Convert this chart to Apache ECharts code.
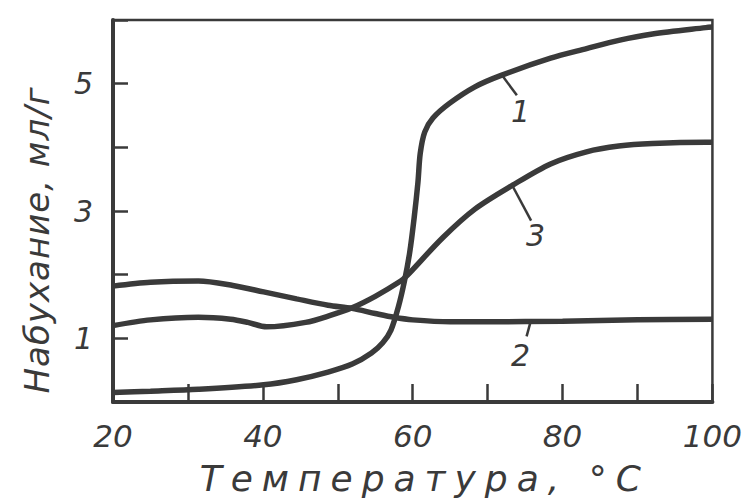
<!DOCTYPE html>
<html>
<head>
<meta charset="utf-8">
<script src="https://cdn.jsdelivr.net/npm/echarts@6/dist/echarts.min.js"></script>
<style>html,body{margin:0;padding:0;background:#fff}#c{width:745px;height:501px}</style>
</head>
<body>
<div id="c"></div>
<script>
// ---- data ----
const xTicks = [20, 30, 40, 50, 60, 70, 80, 90, 100];
const xTickLabels = ['20', '40', '60', '80', '100'];
const yTickLabels = ['1', '3', '5'];
const xTitle = 'Температура, °C';
const yTitle = 'Набухание, мл/г';

const curve1X = [20, 25, 31.4, 40.1, 44.5, 48.7, 52, 54.5, 56, 57.1, 58.1, 58.9, 59.6, 60.2, 60.7, 61.0, 61.6, 62.7, 64.9, 68.3, 71.8, 78.4, 83.2, 87.5, 92, 99.1, 100];
const curve1Y = [0.15, 0.17, 0.2, 0.27, 0.35, 0.47, 0.6, 0.77, 0.93, 1.13, 1.5, 1.9, 2.35, 2.9, 3.45, 3.9, 4.24, 4.46, 4.69, 4.95, 5.13, 5.40, 5.55, 5.68, 5.78, 5.88, 5.89];

const curve2X = [20, 25, 31.4, 36, 40.1, 44.5, 48.7, 51.9, 55, 57.5, 60, 65, 70, 80, 90, 100];
const curve2Y = [1.82, 1.88, 1.9, 1.83, 1.73, 1.62, 1.52, 1.47, 1.39, 1.33, 1.29, 1.26, 1.26, 1.27, 1.29, 1.3];

const curve3X = [20, 25, 31.4, 35.7, 38, 40.5, 45.7, 49, 51.9, 55, 58.4, 59.2, 64, 68.3, 73.4, 78.4, 83.2, 87.5, 92, 99.1, 100];
const curve3Y = [1.2, 1.29, 1.33, 1.3, 1.25, 1.18, 1.25, 1.36, 1.48, 1.66, 1.9, 1.98, 2.58, 3.03, 3.41, 3.74, 3.93, 4.02, 4.06, 4.08, 4.08];

// annotation numbers and leader lines (data coordinates)
const annoNames = ['1', '3', '2'];
const annoLabelPos = [[74.4, 4.56], [76.4, 2.62], [74.4, 0.73]];
const annoLineFrom = [[71.8, 5.15], [73.2, 3.42], [75.8, 1.29]];
const annoLineTo = [[73.9, 4.82], [75.8, 2.85], [75.2, 1.03]];

// ---- chart ----
const ink = '#3a3a3a';
const fontFam = '"DejaVu Sans", sans-serif';
const zip = (xs, ys) => xs.map((x, i) => [x, ys[i]]);

const chart = echarts.init(document.getElementById('c'), null, {renderer: 'svg'});

function curveSeries(name, xs, ys) {
  return {
    name: name, type: 'line', data: zip(xs, ys), smooth: 0.3,
    showSymbol: false, symbol: 'none',
    lineStyle: {color: ink, width: 5.5}, z: 3, silent: true
  };
}

const option = {
  backgroundColor: '#ffffff',
  animation: false,
  grid: {left: 113, right: 20, top: 20, bottom: 83, show: true, borderColor: ink, borderWidth: 2.5, backgroundColor: 'transparent'},
  xAxis: {
    type: 'value', min: 20, max: 100, interval: 10,
    axisLine: {lineStyle: {color: ink, width: 4}},
    axisTick: {inside: true, length: 18, lineStyle: {color: ink, width: 2.5}},
    splitLine: {show: false},
    axisLabel: {
      color: ink, fontSize: 31, fontStyle: 'italic', fontFamily: fontFam, margin: 18,
      formatter: v => (xTickLabels.indexOf(String(v)) >= 0 ? String(v) : '')
    },
    name: xTitle, nameLocation: 'middle', nameGap: 58,
    nameTextStyle: {color: ink, fontSize: 36, fontStyle: 'italic', fontFamily: fontFam, padding: [0, 0, 0, 24]}
  },
  yAxis: {
    type: 'value', min: 0, max: 6, interval: 1,
    axisLine: {lineStyle: {color: ink, width: 4}},
    axisTick: {inside: true, length: 15, lineStyle: {color: ink, width: 2.5}},
    splitLine: {show: false},
    axisLabel: {
      color: ink, fontSize: 30, fontStyle: 'italic', fontFamily: fontFam, margin: 20,
      formatter: v => (yTickLabels.indexOf(String(v)) >= 0 ? String(v) : '')
    }
  },
  graphic: [{
    type: 'text', x: 37, y: 240,
    rotation: Math.PI / 2,
    style: {text: yTitle, fill: ink, font: 'italic 34px ' + fontFam, textAlign: 'center', textVerticalAlign: 'middle'}
  }],
  series: [
    curveSeries('1', curve1X, curve1Y),
    curveSeries('2', curve2X, curve2Y),
    curveSeries('3', curve3X, curve3Y),
    {
      type: 'scatter', symbolSize: 0, silent: true,
      itemStyle: {color: ink, opacity: 1},
      data: annoLabelPos.map((p, i) => ({value: p, name: annoNames[i]})),
      label: {show: true, position: 'inside', formatter: p => p.name, color: ink, opacity: 1, textBorderWidth: 0, fontSize: 30, fontStyle: 'italic', fontFamily: fontFam},
      markLine: {
        symbol: 'none', silent: true, label: {show: false},
        lineStyle: {color: ink, width: 2.5, type: 'solid', opacity: 1},
        data: annoLineFrom.map((p, i) => [{coord: p}, {coord: annoLineTo[i]}])
      }
    }
  ]
};
chart.setOption(option);

// widen the letter spacing of the axis titles as in the printed original
document.querySelectorAll('#c text').forEach(t => {
  if (t.textContent === xTitle) t.style.letterSpacing = '9px';
  if (t.textContent === yTitle) t.style.letterSpacing = '1px';
});
</script>
</body>
</html>
